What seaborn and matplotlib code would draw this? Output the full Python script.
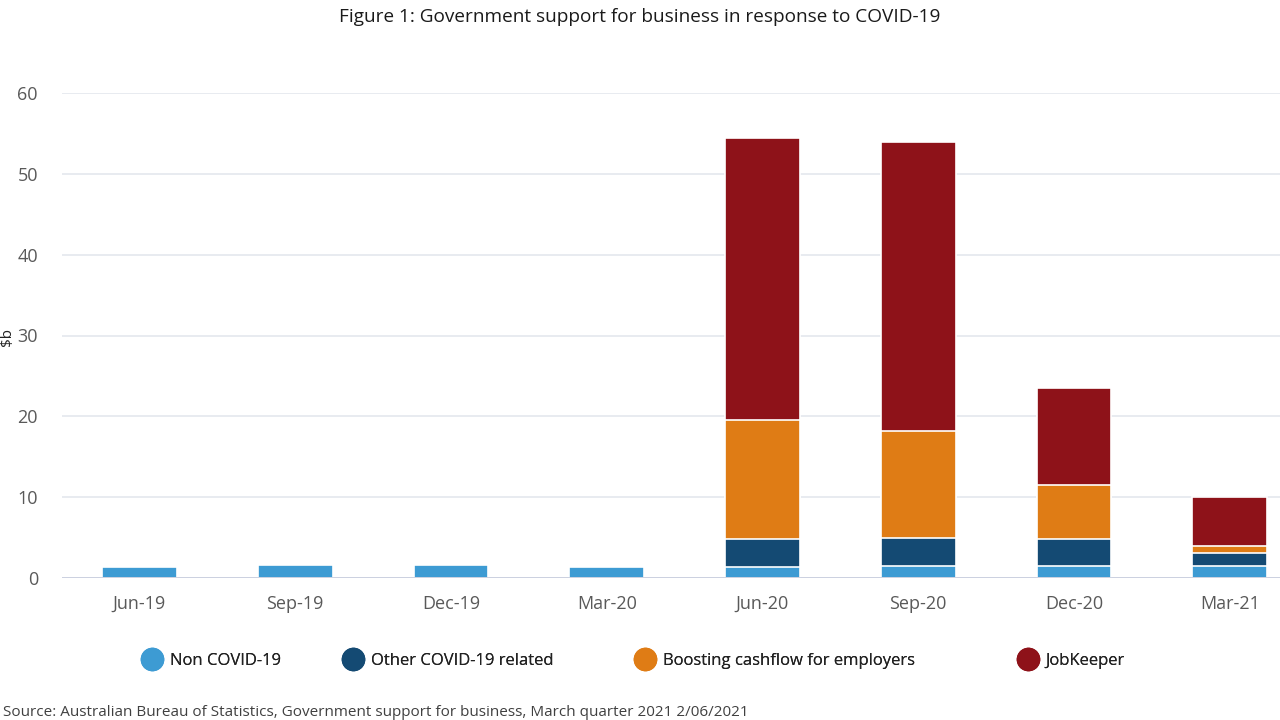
import numpy as np
import pandas as pd
import seaborn as sns
import matplotlib.pyplot as plt
from matplotlib.lines import Line2D

# Quarterly support, $b
quarters = ['Jun-19', 'Sep-19', 'Dec-19', 'Mar-20', 'Jun-20', 'Sep-20', 'Dec-20', 'Mar-21']
non_covid = [1.4, 1.6, 1.6, 1.4, 1.3, 1.5, 1.5, 1.5]
other_covid = [0, 0, 0, 0, 3.5, 3.4, 3.3, 1.6]
cashflow = [0, 0, 0, 0, 14.7, 13.3, 6.7, 0.8]
jobkeeper = [0, 0, 0, 0, 34.9, 35.7, 12.0, 6.1]

series = ['Non COVID-19', 'Other COVID-19 related',
          'Boosting cashflow for employers', 'JobKeeper']
colors = ['#3d9bd3', '#144a73', '#df7c15', '#8e1219']

df = pd.DataFrame({'quarter': quarters, series[0]: non_covid, series[1]: other_covid,
                   series[2]: cashflow, series[3]: jobkeeper})
# cumulative heights so bars can be layered back-to-front
cum = df[series].cumsum(axis=1)

sns.set_theme(style="white")
plt.rcParams['font.family'] = ['Open Sans', 'DejaVu Sans']

fig = plt.figure(figsize=(12.8, 7.2), dpi=100)
ax = fig.add_axes([61.6 / 1280, 1 - 578 / 720, 1246 / 1280, 485 / 720])

for name, col in reversed(list(zip(series, colors))):
    sns.barplot(x=df['quarter'], y=cum[name], color=col, width=0.48,
                edgecolor='white', linewidth=1.2, saturation=1, ax=ax, zorder=3)

ax.set_xlim(-0.5, 7.5)
ax.set_ylim(0, 60)
ax.set_yticks([0, 10, 20, 30, 40, 50, 60])
ax.yaxis.grid(True, color='#e2e5ec', linewidth=1.1, zorder=0)
ax.axhline(0, color='#c9cfdf', linewidth=1.3, zorder=4)
ax.set_axisbelow(True)
for s in ax.spines.values():
    s.set_visible(False)
ax.set_xlabel('')
ax.set_ylabel('')
ax.tick_params(axis='y', length=0, pad=17, labelsize=13, labelcolor='#595959')
ax.tick_params(axis='x', length=0, pad=12, labelsize=13, labelcolor='#595959')

fig.text(0.5, 0.976, 'Figure 1: Government support for business in response to COVID-19',
         ha='center', va='center', fontsize=13.7, color='#1a1a1a')
fig.text(0.006, 0.532, '$b', rotation=90, ha='center', va='center', fontsize=11, color='#222222')
fig.text(0.002, 0.010, 'Source: Australian Bureau of Statistics, Government support for business, '
         'March quarter 2021 2/06/2021', ha='left', va='center', fontsize=11, color='#404040')

# legend entries spaced as in the original
leg_x = [134, 335, 627, 1010]
for name, col, x in zip(series, colors, leg_x):
    h = Line2D([], [], marker='o', linestyle='', markersize=16, markerfacecolor=col,
               markeredgecolor=col)
    leg = fig.legend([h], [name], loc='center left', bbox_to_anchor=(x / 1280, 1 - 661 / 720),
                     frameon=False, fontsize=12, handletextpad=0.45, borderpad=0,
                     handlelength=1.2, labelcolor='#222222')
    fig.add_artist(leg)

fig.savefig('out.png', dpi=100)
